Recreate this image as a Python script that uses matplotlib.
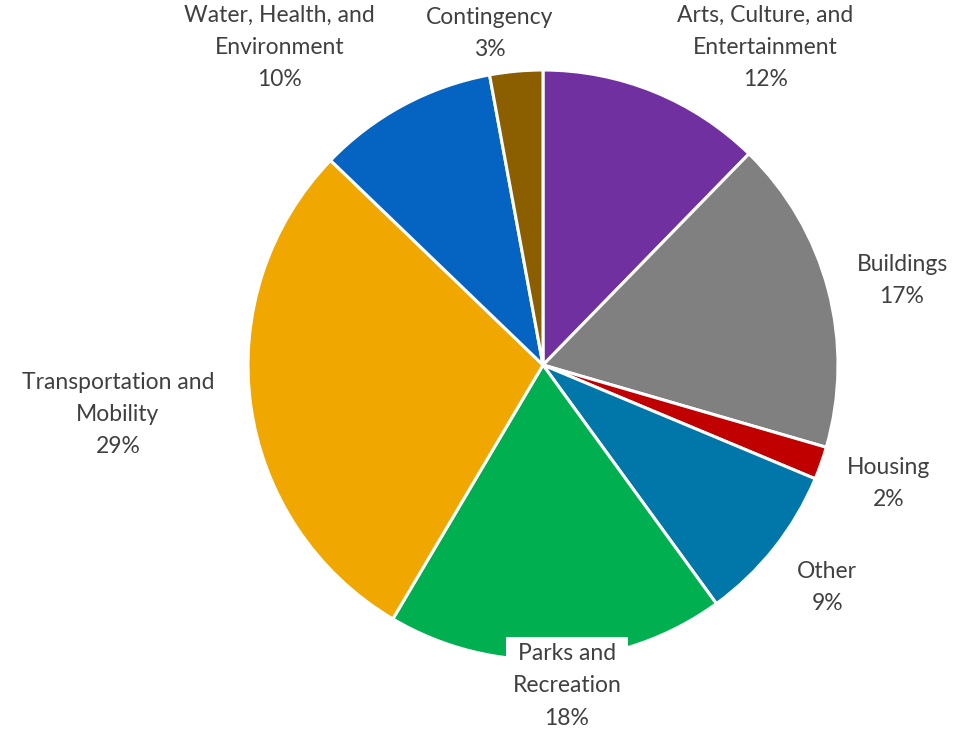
import numpy as np
import matplotlib.pyplot as plt

categorias = ['Arts, Culture, and\nEntertainment', 'Buildings', 'Housing', 'Other',
              'Parks and\nRecreation', 'Transportation and\nMobility',
              'Water, Health, and\nEnvironment', 'Contingency']
porcentajes = [12.3, 17.2, 1.8, 8.7, 18.5, 28.7, 9.9, 2.9]
colores = ['#7030A0', '#808080', '#C00000', '#0077A8', '#00B050',
           '#F0A800', '#0563C1', '#8B5E00']

# posiciones de las etiquetas (en unidades del radio)
pos_etiquetas = [(0.753, 1.075), (1.217, 0.285), (1.173, -0.403), (0.963, -0.753),
                 (0.081, -1.088), (-1.441, -0.169), (-0.892, 1.075), (-0.180, 1.125)]

plt.rcParams['font.family'] = ['Lato', 'DejaVu Sans']

fig = plt.figure(figsize=(9.64, 7.31), dpi=100)
ax = fig.add_axes([0, 0, 1, 1])

ax.pie(porcentajes, colors=colores, startangle=90, counterclock=False,
       radius=1, center=(0, 0),
       wedgeprops=dict(edgecolor='white', linewidth=2.2))

for i, cat in enumerate(categorias):
    x, y = pos_etiquetas[i]
    texto = f'{cat}\n{round(porcentajes[i])}%'
    caja = None
    if i == 4:
        caja = dict(boxstyle='square,pad=0.3', facecolor='white', edgecolor='none')
    ax.text(x, y, texto, ha='center', va='center', fontsize=16.5,
            color='#404040', linespacing=1.65, bbox=caja)

# centro del pastel en (543,365) px, radio 295 px
escala = 295
ax.set_xlim(-543 / escala, (964 - 543) / escala)
ax.set_ylim(-(731 - 365) / escala, 365 / escala)
ax.set_aspect('equal')
ax.axis('off')

fig.savefig('out.png', dpi=100)
